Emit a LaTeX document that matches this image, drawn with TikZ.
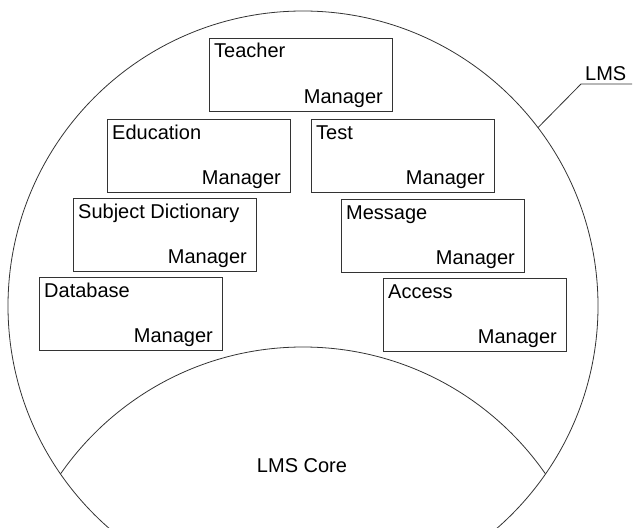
\documentclass[tikz,border=0pt]{standalone}
\usepackage{fontspec}
\setmainfont{Liberation Sans}
\usetikzlibrary{calc}
\begin{document}
\begin{tikzpicture}[x=1pt,y=-1pt,
  ln/.style={draw=black!80, line width=0.8pt},
  mgr/.style={ln, rectangle, minimum width=183pt, minimum height=73pt,
    inner sep=0pt, outer sep=0pt, anchor=north west},
  toplbl/.style={anchor=base west, inner sep=0pt, font=\fontsize{20}{24}\selectfont},
  botlbl/.style={anchor=base east, inner sep=0pt, font=\fontsize{20}{24}\selectfont}]
\useasboundingbox (0,0) rectangle (634,527);
\clip (0,0) rectangle (634,527);
% big LMS circle
\coordinate (c1) at (303,306);
\coordinate (c2) at (303,642);
\draw[ln] (c1) circle[radius=295pt];
% LMS Core arc (inner circle clipped to big circle)
\begin{scope}
  \clip (c1) circle[radius=295pt];
  \draw[ln] (c2) circle[radius=295pt];
\end{scope}
\node[font=\fontsize{20}{24}\selectfont, inner sep=0pt] (core) at (302,466) {LMS Core};
% LMS label with leader
\node[toplbl] (lms) at (585,81) {LMS};
\coordinate (lmsl) at (581,84);
\coordinate (lmsr) at (632,84);
\coordinate (lmsp) at ($(c1)+(37.2:295pt)$);
\draw[ln] (lmsr) -- (lmsl) -- (lmsp);
% manager boxes
\foreach \nm/\x/\y/\txt in {teacher/209/38/Teacher, education/107/119/Education, test/311/119/Test,
  subject/73/198/Subject Dictionary, message/341/199/Message, database/39/277/Database, access/383/278/Access}{
  \node[mgr] (\nm) at (\x,\y) {};
  \node[toplbl] (\nm-t) at ([shift={(5pt,-20pt)}]\nm.north west) {\txt};
  \node[botlbl] (\nm-m) at ([shift={(-9pt,8pt)}]\nm.south east) {Manager};
}
\end{tikzpicture}
\end{document}
